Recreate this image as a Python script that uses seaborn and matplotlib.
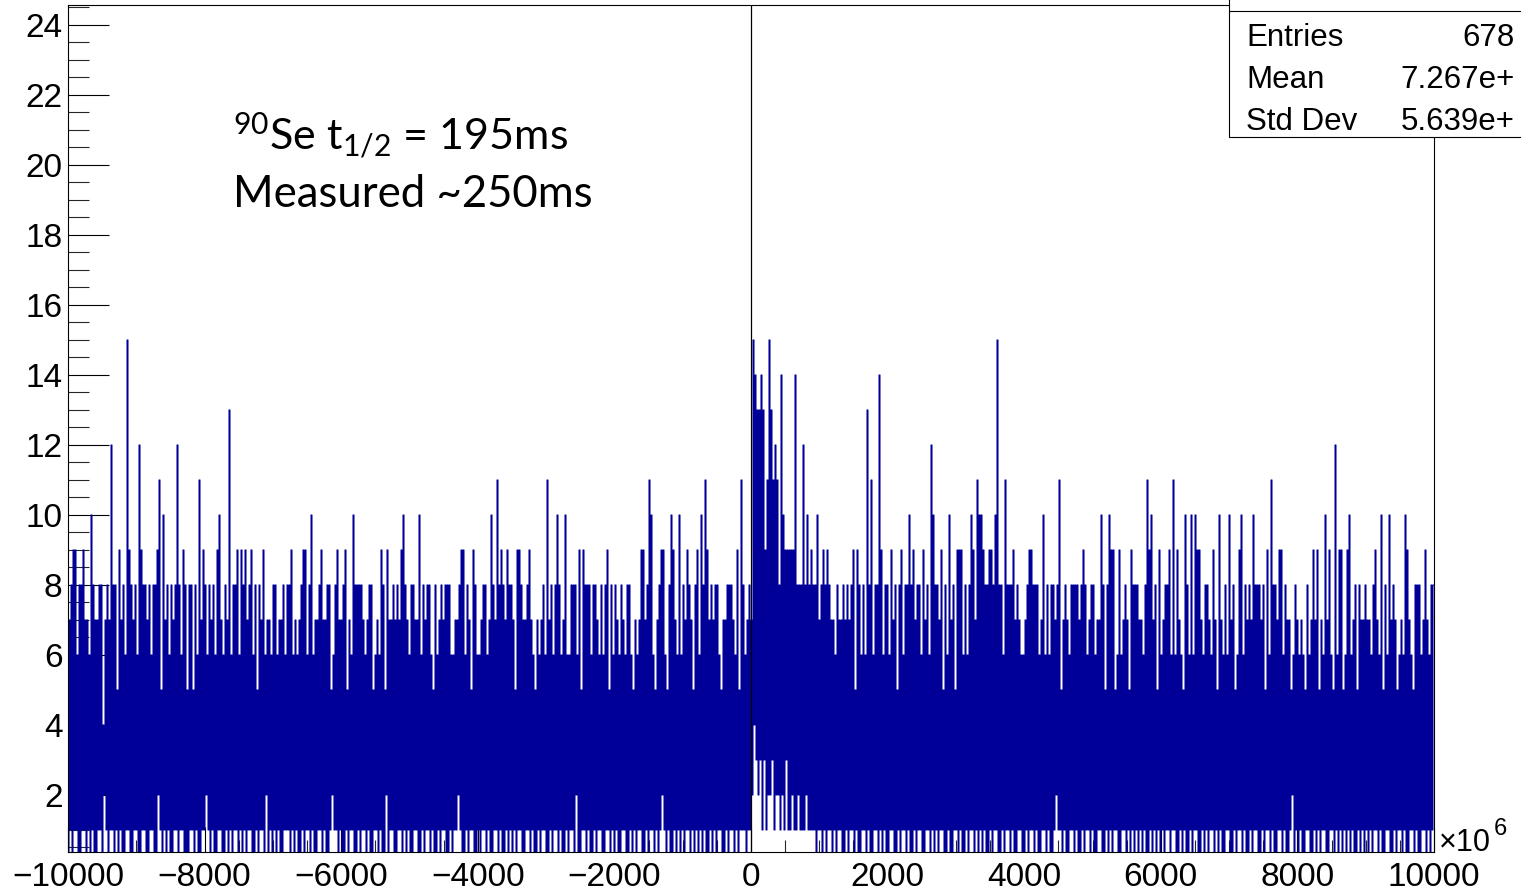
import numpy as np
import pandas as pd
import matplotlib
matplotlib.use("Agg")
import matplotlib.pyplot as plt
from matplotlib.ticker import MultipleLocator, FixedLocator, FixedFormatter
from matplotlib.patches import Rectangle
from matplotlib.lines import Line2D
import seaborn as sns

# ---------------- data ----------------
x_range = [-10000, 10000]          # time axis, units of 1e6

# upper envelope of the histogram, one hex digit per 2-pixel column
max_env_strips = [
    "7867687677" "6787768478" "7687567768" "6778676857" "7687765778" "6778786675"
    "7857687786" "6786757687" "7678667857" "8667587767" "7658677865" "7867",
    "6787568767" "7867787568" "6778657687" "5687678756" "7678547787" "6785676877"
    "7568767658" "6787758667" "7857667586" "6678567787" "5768778675" "6787",
    "7687657678" "6578676867" "7668576757" "8676787656" "7658677687" "6786576764"
    "7678657687" "6587676768" "7687567678" "6675787657" "7686768578" "6787",
    "fedded9bfd" "bcb8ea9999" "9e888c8a89" "88a7898987"
    "7687767678" "7568676786" "6787568667" "7658766858" "6786677567" "7867657687"
    "6578667686" "5787",
    "6787658667" "7658766787" "6678567686" "7867658766" "5787667857" "6786758677"
    "7857687566" "6787568767" "7685767658" "6778567687" "6578676876" "7658",
    "7687567686" "6785676687" "5768687657" "6686757687" "7568767658" "6787657687"
    "7658667568" "6676587767" "7685767586" "6787567678" "7658676787" "658",
]

# lower envelope of the histogram, one digit per 2-pixel column
min_env_strips = [
    "0101100110" "1010011021" "0110101001" "1001100110" "0110021010" "1001101100"
    "0110100112" "1010011001" "0101101010" "1100101102" "0101010011" "1010",
    "1001011010" "0110100121" "1010010110" "0101101001" "1010020110" "0110101001"
    "1001011010" "0101100101" "1210010110" "0101101001" "1010010101" "0110",
    "0110100101" "1001011010" "0101102001" "1010010110" "0110101001" "1001010110"
    "0101101012" "1010010101" "0110101010" "1001010110" "0101101011" "1011",
    "2432313122" "3122121311" "2112111211" "1101101011"
    "0101100101" "1010011010" "0110101001" "1001011010" "0101100110" "1010110010"
    "0110100101" "1010",
    "1010010110" "0101101001" "1001011010" "0110100121" "1010011010" "0101101001"
    "1001010110" "0110101010" "1010010101" "0101101100" "1010010110" "0101",
    "0110101001" "1001011010" "0101100101" "1010011010" "0120101001" "1001010110"
    "0110101010" "1010010101" "0101101001" "1001011010" "0110100110" "101",
]

# isolated tall bins (column index, count)
spike_col = [2, 3, 6, 7, 11, 15, 16, 19, 21, 23, 25, 27, 29, 30, 31, 33, 35, 36, 38, 40,
             43, 44, 45, 47, 51, 54, 57, 58, 60, 63, 65, 67, 70, 74, 75, 78, 80, 82, 84, 86,
             87, 88, 91, 93, 97, 102, 103, 109, 110, 111,
             117, 118, 120, 121, 126, 130, 133, 134, 138, 142, 143, 144, 145, 150, 151, 156,
             157, 159, 164, 166, 167, 168, 171, 172, 175, 179, 180, 188, 189, 190, 195, 196,
             197, 199, 202, 203, 208, 211, 214, 215, 216, 219, 221, 224, 225, 226,
             229, 230, 239, 243, 244, 248, 251, 252, 253, 255, 257, 259, 260, 262, 266, 268,
             269, 273, 279, 280, 286, 287, 289, 290, 291, 295, 296, 297, 301, 302, 305, 309,
             313, 314, 316, 318, 319, 321, 324, 329, 330, 331, 334, 336, 340,
             384, 387, 389, 392, 394, 397, 399, 401, 403, 405, 406, 409, 411, 413, 416, 418,
             420, 422, 425, 427, 429, 431, 432, 434, 436, 438, 440, 442, 444, 445, 446, 448,
             451, 452, 454, 455,
             456, 457, 459, 460, 461, 463, 464, 465, 466, 468, 470, 471, 472, 474, 480, 481,
             482, 483, 487, 489, 491, 494, 495, 501, 502, 504, 506, 507, 508, 511, 516, 519,
             520, 521, 522, 525, 531, 533, 534, 539, 540, 541, 543, 545, 548, 550, 552, 554,
             558, 561, 563, 564, 565, 568,
             572, 575, 578, 580, 582, 585, 586, 590, 592, 594, 597, 599, 601, 603, 605, 606,
             613, 619, 622, 624, 628, 630, 633, 635, 636, 639, 640, 643, 645, 648, 653, 656,
             660, 662, 668, 669, 673, 674, 675, 678, 681]
spike_count = [9, 9, 8, 9, 10, 8, 8, 8, 12, 8, 9, 8, 15, 9, 8, 8, 12, 9, 8, 8,
               8, 9, 11, 10, 8, 12, 9, 8, 8, 8, 11, 9, 8, 9, 10, 8, 13, 8, 9, 9,
               8, 9, 9, 8, 9, 8, 8, 8, 8, 9,
               9, 9, 8, 10, 9, 8, 8, 9, 9, 10, 8, 8, 8, 8, 8, 9,
               8, 9, 8, 9, 10, 8, 8, 8, 10, 8, 8, 8, 8, 8, 8, 9,
               9, 8, 9, 8, 8, 10, 11, 8, 9, 9, 8, 9, 9, 8,
               8, 9, 11, 8, 10, 10, 8, 8, 8, 9, 9, 8, 8, 8, 8, 8,
               9, 8, 8, 8, 9, 9, 8, 11, 10, 8, 9, 9, 10, 9, 10, 9,
               8, 9, 10, 11, 9, 8, 8, 8, 8, 8, 9, 11, 8,
               8, 8, 8, 9, 9, 8, 13, 11, 8, 14, 9, 8, 9, 8, 9, 8,
               10, 9, 8, 9, 8, 12, 10, 8, 9, 8, 10, 8, 9, 9, 9, 8,
               10, 9, 11, 10,
               10, 9, 8, 9, 9, 10, 15, 8, 8, 11, 8, 8, 9, 8, 9, 9,
               8, 8, 10, 8, 8, 8, 11, 8, 8, 8, 8, 9, 8, 8, 10, 8,
               10, 9, 9, 9, 9, 8, 8, 11, 9, 10, 8, 9, 8, 9, 11, 9,
               10, 10, 10, 9, 9, 8,
               9, 10, 8, 10, 8, 9, 10, 8, 10, 8, 8, 9, 11, 8, 9, 9,
               8, 8, 9, 9, 10, 9, 12, 9, 9, 9, 10, 8, 8, 8, 9, 10,
               10, 8, 10, 9, 8, 8, 8, 9, 8]

x_ticks = [-10000, -8000, -6000, -4000, -2000, 0, 2000, 4000, 6000, 8000, 10000]
y_ticks = [2, 4, 6, 8, 10, 12, 14, 16, 18, 20, 22, 24]
stats_labels = ["Entries", "Mean", "Std Dev"]
stats_values = ["678", "7.267e+", "5.639e+"]     # part visible inside the picture
note_line1 = r"$^{90}$Se t$_{1/2}$ = 195ms"
note_line2 = "Measured ~250ms"

# ---------------- build histogram bins ----------------
max_env = np.array([int(ch, 16) for ch in "".join(max_env_strips)])
min_env = np.array([int(ch) for ch in "".join(min_env_strips)])
n_col = min(len(max_env), len(min_env))
max_env = max_env[:n_col].copy()
min_env = min_env[:n_col].copy()
for c, v in zip(spike_col, spike_count):
    if c < n_col:
        max_env[c] = max(max_env[c], v)
min_env = np.minimum(min_env, max_env)
counts = np.column_stack([min_env, max_env]).ravel()
n_bins = counts.size
bin_w = (x_range[1] - x_range[0]) / n_bins
centers = x_range[0] + bin_w * (np.arange(n_bins) + 0.5)
df = pd.DataFrame({"t": centers, "n": counts.astype(float)})

# ---------------- figure ----------------
sns.set_theme(style="white")
plt.rcParams["font.family"] = ["Liberation Sans", "DejaVu Sans"]
plt.rcParams["text.color"] = "black"
plt.rcParams["mathtext.fontset"] = "custom"
plt.rcParams["mathtext.rm"] = "Lato"
plt.rcParams["mathtext.it"] = "Lato:italic"

W, H = 1521, 894
fig = plt.figure(figsize=(W / 100, H / 100), dpi=100)
fig.patch.set_facecolor("white")


def fx(px):
    return px / W


def fy(py):
    return 1 - py / H


ax_left, ax_right, ax_top, ax_bottom = 68, 1434, 5, 852
ax = fig.add_axes([fx(ax_left), fy(ax_bottom), fx(ax_right) - fx(ax_left), fy(ax_top) - fy(ax_bottom)])
ax.set_facecolor("white")

sns.histplot(data=df, x="t", weights="n", bins=n_bins, binrange=tuple(x_range),
             element="step", fill=False, color="#000099", linewidth=0.75, ax=ax)
ax.axvline(0, color="black", linewidth=0.9, zorder=3)

ax.set_xlim(x_range)
ax.set_ylim(0.371, 24.571)
ax.set_xlabel("")
ax.set_ylabel("")

ax.xaxis.set_major_locator(FixedLocator(x_ticks))
ax.xaxis.set_major_formatter(FixedFormatter([str(v).replace("-", "\u2212") for v in x_ticks]))
ax.xaxis.set_minor_locator(MultipleLocator(500))
ax.yaxis.set_major_locator(FixedLocator(y_ticks))
ax.yaxis.set_major_formatter(FixedFormatter([str(v) for v in y_ticks]))
ax.yaxis.set_minor_locator(MultipleLocator(0.5))

ax.tick_params(axis="y", which="major", direction="in", length=41 * 0.72, width=0.8,
               pad=4, labelsize=24, colors="black", left=True, right=False)
ax.tick_params(axis="y", which="minor", direction="in", length=20.5 * 0.72, width=0.8,
               left=True, right=False)
ax.tick_params(axis="x", which="major", direction="in", length=25 * 0.72, width=0.8,
               pad=7, labelsize=24, colors="black", bottom=True, top=False)
ax.tick_params(axis="x", which="minor", direction="in", length=12.5 * 0.72, width=0.8,
               bottom=True, top=False)
for s in ax.spines.values():
    s.set_color("black")
    s.set_linewidth(0.8)
    s.set_visible(True)

# exponent label
fig.text(fx(1439), fy(851), "\u00d710", fontsize=22, ha="left", va="baseline", color="black")
fig.text(fx(1494), fy(835), "6", fontsize=17, ha="left", va="baseline", color="black")

# annotation
fig.text(fx(233), fy(150), note_line1, fontsize=31, family="Lato", ha="left",
         va="baseline", color="black")
fig.text(fx(233), fy(207), note_line2, fontsize=31.5, family="Lato", ha="left",
         va="baseline", color="black")

# statistics box (runs past the right edge, as in the reference)
box = Rectangle((fx(1229), fy(137)), fx(1700) - fx(1229), fy(-30) - fy(137),
                transform=fig.transFigure, facecolor="white", edgecolor="black",
                linewidth=0.8, zorder=10)
fig.add_artist(box)
fig.add_artist(Line2D([fx(1229), fx(1700)], [fy(11), fy(11)], transform=fig.transFigure,
                      color="black", linewidth=0.8, zorder=11))
for i, (lab, val) in enumerate(zip(stats_labels, stats_values)):
    yb = 46 + 42 * i
    fig.text(fx(1246), fy(yb), lab, fontsize=22.5, ha="left", va="baseline",
             color="black", zorder=12)
    fig.text(fx(1515), fy(yb), val, fontsize=22.5, ha="right", va="baseline",
             color="black", zorder=12)

fig.savefig("out.png", dpi=100)
